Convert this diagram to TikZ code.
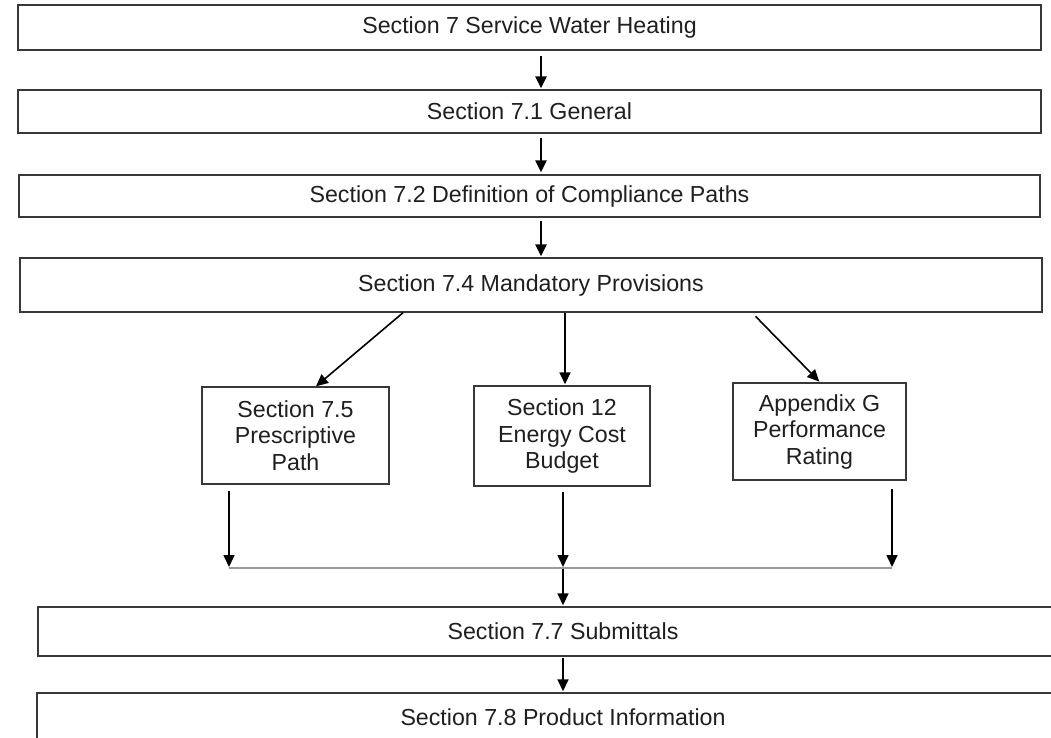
\documentclass[tikz,border=0pt]{standalone}
\usepackage{fontspec}
\setmainfont{Liberation Sans}
\usetikzlibrary{arrows.meta}
\begin{document}
\begin{tikzpicture}[x=1pt,y=-1pt,
  box/.style={draw=black!78,line width=1.4pt,inner sep=0pt,align=center,
    text=black!88,font=\fontsize{23.2}{26.5}\selectfont},
  arr/.style={draw=black,line width=1.6pt,-{Triangle[length=12pt,width=11pt]}},
  thickarr/.style={arr,line width=2.6pt},
  merge/.style={draw=black!40,line width=2pt}]
\useasboundingbox (0,0) rectangle (1051,737);
\clip (0,0) rectangle (1051,737);
\fill[white] (0,0) rectangle (1051,737);

% main chain of sections
\node[box,minimum width=1023pt,minimum height=45pt] (b1) at (529.5,27.5) {Section 7 Service Water Heating};
\node[box,minimum width=1023pt,minimum height=43pt] (b2) at (529.5,111.5) {Section 7.1 General};
\node[box,minimum width=1021pt,minimum height=42pt] (b3) at (529.5,196) {Section 7.2 Definition of Compliance Paths};
\node[box,minimum width=1022pt,minimum height=54pt] (b4) at (531,285) {Section 7.4 Mandatory Provisions};

% compliance paths
\node[box,minimum width=187pt,minimum height=97pt] (b5) at (295.5,435.5) {Section 7.5\\Prescriptive\\Path};
\node[box,minimum width=176pt,minimum height=100pt] (b6) at (562,436) {Section 12\\Energy Cost\\Budget};
\node[box,minimum width=173pt,minimum height=97pt] (b7) at (819.5,431.5) {Appendix G\\Performance\\Rating};

% closing sections
\node[box,minimum width=1050pt,minimum height=49pt] (b8) at (563,631.5) {Section 7.7 Submittals};
\node[box,minimum width=1052pt,minimum height=49pt] (b9) at (563,717.5) {Section 7.8 Product Information};

% column positions of the connectors
\coordinate (cTop) at (541,0);
\coordinate (cL1) at (403,0);
\coordinate (cL2) at (316,0);
\coordinate (cMid) at (565,0);
\coordinate (cR1) at (752,0);
\coordinate (cR2) at (820,0);
\coordinate (cC) at (563,0);
\coordinate (mL) at (229,568);
\coordinate (mC) at (563,568);
\coordinate (mR) at (892,568);

\draw[thickarr,shorten <=5pt,shorten >=1pt] (b1.south -| cTop) -- (b2.north -| cTop);
\draw[thickarr,shorten <=4pt,shorten >=2pt] (b2.south -| cTop) -- (b3.north -| cTop);
\draw[thickarr,shorten <=3pt,shorten >=1pt] (b3.south -| cTop) -- (b4.north -| cTop);

\draw[arr] (b4.south -| cL1) -- (b5.north -| cL2);
\draw[arr,shorten >=1pt] (b4.south -| cMid) -- (b6.north -| cMid);
\draw[arr,shorten <=5pt,shorten >=1pt] (b4.south -| cR1) -- (b7.north -| cR2);

% merge of the three paths
\draw[merge] (mL) -- (mR);
\draw[arr,shorten <=6pt,shorten >=1pt] (b5.south -| mL) -- (mL);
\draw[arr,shorten <=5pt,shorten >=1pt] (b6.south -| mC) -- (mC);
\draw[arr,shorten <=8pt,shorten >=1pt] (b7.south -| mR) -- (mR);
\draw[arr,shorten <=1pt,shorten >=1pt] (mC) -- (b8.north -| cC);
\draw[arr,shorten <=1pt,shorten >=1pt] (b8.south -| cC) -- (b9.north -| cC);
\end{tikzpicture}
\end{document}
